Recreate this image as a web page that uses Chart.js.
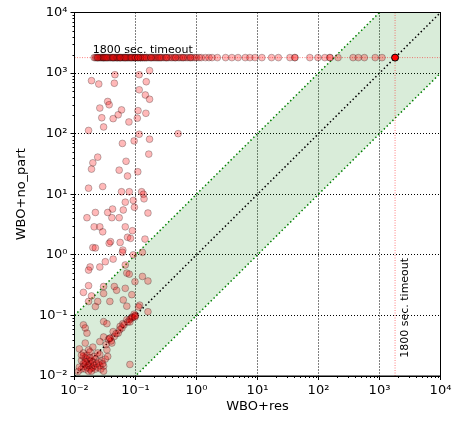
<!DOCTYPE html>
<html><head><meta charset="utf-8">
<script src="https://cdn.jsdelivr.net/npm/chart.js@4"></script>
<style>html,body{margin:0;padding:0;background:#fff}</style>
</head><body>
<canvas id="c" width="452" height="421" style="width:452px;height:421px;display:block"></canvas>
<script>
const TIMEOUT = 1800;
const timeoutText = '1800 sec. timeout';
const xTitle = 'WBO+res';
const yTitle = 'WBO+no_part';
const tickValues = [0.01, 0.1, 1, 10, 100, 1000, 10000];
const tickLabels = ['10⁻²', '10⁻¹', '10⁰', '10¹', '10²', '10³', '10⁴'];

// solved instances (x = WBO+res time, y = WBO+no_part time)
const resX = [0.019,0.025,0.046,0.045,0.115,0.17,0.15,0.115,0.145,0.17,0.035,0.037,0.026,0.059,0.052,0.11,0.107,0.148,0.028,0.043,0.078,0.030,0.017,0.115,0.5,
0.061,0.095,0.17,0.165,0.024,0.020,0.070,0.019,0.054,0.109,0.074,0.017,0.029,0.059,0.079,0.126,0.135,0.092,0.138,0.068,0.022,0.035,0.042,0.063,0.096,0.16,
0.016,0.041,0.054,0.021,0.026,0.029,0.068,0.089,0.074,0.083,0.143,0.039,0.037,0.020,0.062,0.022,0.056,0.061,0.092,0.13,0.043,0.032,0.026,0.018,0.017,0.068,
0.072,0.079,0.13,0.16,0.098,0.017,0.030,0.045,0.049,0.068,0.087,0.014,0.019,0.030,0.024,0.017,0.038,0.063,0.117,0.022,0.072,0.112,0.16,0.098,0.087,0.072,
0.062,0.056,0.030,0.034,0.014,0.015,0.043,0.038,0.052,0.030,0.026,0.016,0.015,0.012,0.017,0.020,0.014,0.015,0.014,0.017,0.022,0.028,0.030,0.019,0.0115,0.081,
0.026,0.034,0.041,
0.013,0.014,0.015,0.016,0.016,0.017,0.018,0.018,0.019,0.020,0.020,0.021,0.022,0.023,0.024,0.025,0.026,0.027,0.029,0.032,0.035,0.013,0.014,0.015,0.016,0.018,
0.021,0.024,0.012,0.013,0.017,0.019,0.030,0.015,0.018,
0.033,0.036,0.040,0.045,0.048,0.055,0.060,0.065,0.075,0.080,0.085,0.090,0.100,0.095,0.038,0.081,0.098];
const noPartY = [750,660,940,680,940,1100,720,530,435,370,340,300,265,247,205,240,180,217,183,177,156,129,113,98,100,
69,76,81,46,41,33,35,26,25,23.5,20,12.6,13.4,11,11,11,10,7.9,8.4,7.4,5.0,5.0,5.7,5.5,6.1,4.9,
4.1,4.1,4.1,2.9,2.9,2.4,2.9,2.5,1.95,1.87,1.82,1.65,1.55,1.32,1.2,1.3,1.6,1.1,1.0,1.1,0.85,0.77,0.63,0.63,0.56,0.68,
0.50,0.48,0.44,0.37,0.36,0.31,0.30,0.30,0.26,0.28,0.22,0.24,0.21,0.23,0.17,0.17,0.17,0.18,0.148,0.14,0.142,0.138,0.115,0.098,0.094,0.085,
0.073,0.066,0.079,0.073,0.070,0.062,0.054,0.042,0.051,0.044,0.037,0.051,0.035,0.028,0.027,0.030,0.021,0.0155,0.0145,0.0177,0.019,0.0177,0.0145,0.0135,0.0119,0.0155,
0.0227,0.027,0.035,
0.013,0.016,0.013,0.014,0.019,0.015,0.013,0.016,0.018,0.014,0.017,0.015,0.013,0.016,0.014,0.017,0.015,0.013,0.016,0.019,0.021,0.018,0.024,0.020,0.022,0.025,
0.021,0.024,0.014,0.022,0.012,0.012,0.012,0.017,0.020,
0.033,0.040,0.038,0.045,0.050,0.058,0.062,0.070,0.078,0.085,0.090,0.092,0.100,0.105,0.042,0.078,0.094];

// instances where only WBO+no_part timed out (y = TIMEOUT)
const timeoutRowX = [0.021,0.022,0.023,0.024,0.025,0.026,0.027,0.028,0.029,0.030,0.030,0.031,0.032,0.034,0.035,0.036,0.038,0.039,0.041,0.042,0.044,0.045,0.047,
0.049,0.050,0.051,0.053,0.055,0.057,0.059,0.062,0.064,0.066,0.069,0.072,0.074,0.077,0.080,0.083,0.087,0.090,0.094,0.097,0.10,0.10,0.10,0.11,0.11,0.12,0.12,
0.12,0.13,0.13,0.14,0.15,0.15,0.16,0.17,0.18,0.19,0.20,0.21,0.22,0.23,0.24,0.26,0.27,0.29,0.31,0.33,0.35,0.38,0.40,0.43,0.46,0.50,0.53,0.57,0.62,0.67,0.72,
0.78,0.85,0.93,1.0,1.1,1.2,1.4,1.6,1.8,2.2,3.0,3.8,4.8,6.3,7.5,9.1,11.8,17,22,34,41,72,98,127,154,209,369,450,565,850,1100,
0.024,0.033,0.043,0.056,0.068,0.085,0.11,0.14,0.18,0.25,0.32,0.45,0.6,0.8,41,154];

// instances where both timed out
const bothTimeoutX = [1800];
const bothTimeoutY = [1800];

// reference lines
const lineX = [0.01, 10000];
const diagY = [0.01, 10000];
const bandUpperY = [0.1, 100000];
const bandLowerY = [0.001, 1000];

const pts = (xs, ys) => xs.map((v, i) => ({x: v, y: ys[i]}));
const FONT = '"DejaVu Sans", "Liberation Sans", sans-serif';

const overlay = {
  id: 'overlay',
  afterDraw(chart) {
    const {ctx, chartArea: a, scales: {x, y}} = chart;
    ctx.save();
    ctx.strokeStyle = '#000'; ctx.lineWidth = 1; ctx.setLineDash([]);
    ctx.strokeRect(a.left, a.top, a.right - a.left, a.bottom - a.top);
    ctx.beginPath();
    for (let k = 0; k < tickValues.length - 1; k++) {
      for (let m = 2; m < 10; m++) {
        const v = tickValues[k] * m;
        const px = Math.round(x.getPixelForValue(v)) + 0.5;
        ctx.moveTo(px, a.bottom); ctx.lineTo(px, a.bottom + 2);
        const py = Math.round(y.getPixelForValue(v)) + 0.5;
        ctx.moveTo(a.left, py); ctx.lineTo(a.left - 2, py);
      }
    }
    ctx.stroke();
    ctx.fillStyle = '#000';
    ctx.font = '11px ' + FONT;
    ctx.textAlign = 'left'; ctx.textBaseline = 'alphabetic';
    ctx.fillText(timeoutText, x.getPixelForValue(0.02), y.getPixelForValue(TIMEOUT) - 5);
    ctx.save();
    ctx.translate(x.getPixelForValue(TIMEOUT) + 12.5, y.getPixelForValue(0.02));
    ctx.rotate(-Math.PI / 2);
    ctx.fillText(timeoutText, 0, 0);
    ctx.restore();
    ctx.font = '13px ' + FONT;
    ctx.textAlign = 'center'; ctx.textBaseline = 'middle';
    ctx.fillText(xTitle, (a.left + a.right) / 2, 407);
    ctx.save();
    ctx.translate(21.5, (a.top + a.bottom) / 2);
    ctx.rotate(-Math.PI / 2);
    ctx.fillText(yTitle, 0, 0);
    ctx.restore();
    ctx.restore();
  }
};

const axis = (fit) => ({
  type: 'logarithmic', min: 0.01, max: 10000,
  afterBuildTicks: s => { s.ticks = tickValues.map(v => ({value: v})); },
  afterFit: fit,
  ticks: {
    callback: (v, i) => tickLabels[i],
    font: {family: FONT, size: 13}, color: '#000', padding: 3,
    maxRotation: 0, minRotation: 0, autoSkip: false
  },
  grid: {color: '#000', lineWidth: 1, tickLength: 4, tickColor: '#000', tickWidth: 1, drawTicks: true},
  border: {display: true, color: '#000', width: 1, dash: [1, 2]}
});

new Chart(document.getElementById('c'), {
  type: 'scatter',
  data: {
    datasets: [
      {type: 'line', data: pts(lineX, bandUpperY), borderColor: '#008000', borderWidth: 1.5, borderDash: [1.5, 2.5],
       pointRadius: 0, fill: '+1', backgroundColor: 'rgba(0,128,0,0.15)', tension: 0, order: 10},
      {type: 'line', data: pts(lineX, bandLowerY), borderColor: '#008000', borderWidth: 1.5, borderDash: [1.5, 2.5],
       pointRadius: 0, fill: false, tension: 0, order: 10},
      {type: 'line', data: pts(lineX, diagY), borderColor: '#000', borderWidth: 1.5, borderDash: [1.5, 2.5],
       pointRadius: 0, fill: false, tension: 0, order: 9},
      {type: 'line', data: pts(lineX, [TIMEOUT, TIMEOUT]), borderColor: 'rgba(255,0,0,0.5)', borderWidth: 1, borderDash: [1, 1.5],
       pointRadius: 0, fill: false, tension: 0, order: 8},
      {type: 'line', data: pts([TIMEOUT, TIMEOUT], diagY), borderColor: 'rgba(255,0,0,0.5)', borderWidth: 1, borderDash: [1, 1.5],
       pointRadius: 0, fill: false, tension: 0, order: 8},
      {data: pts(resX, noPartY), backgroundColor: 'rgba(255,0,0,0.28)', borderColor: 'rgba(0,0,0,0.25)',
       borderWidth: 1, pointRadius: 3.4, order: 2},
      {data: timeoutRowX.map(v => ({x: v, y: TIMEOUT})), backgroundColor: 'rgba(255,0,0,0.28)', borderColor: 'rgba(0,0,0,0.25)',
       borderWidth: 1, pointRadius: 3.4, order: 2},
      {data: pts(bothTimeoutX, bothTimeoutY), backgroundColor: 'rgb(255,0,0)', borderColor: '#000',
       borderWidth: 1, pointRadius: 3.5, order: 1}
    ]
  },
  options: {
    responsive: false, animation: false, devicePixelRatio: 1,
    layout: {padding: {top: 12.5, right: 11.5, left: 0, bottom: 0}},
    plugins: {legend: {display: false}, tooltip: {enabled: false}},
    scales: {
      x: axis(s => { s.height = 45; s.paddingLeft = 0; s.paddingRight = 0; }),
      y: axis(s => { s.width = 74.5; s.paddingTop = 0; s.paddingBottom = 0; })
    }
  },
  plugins: [overlay]
});
</script>
</body></html>
